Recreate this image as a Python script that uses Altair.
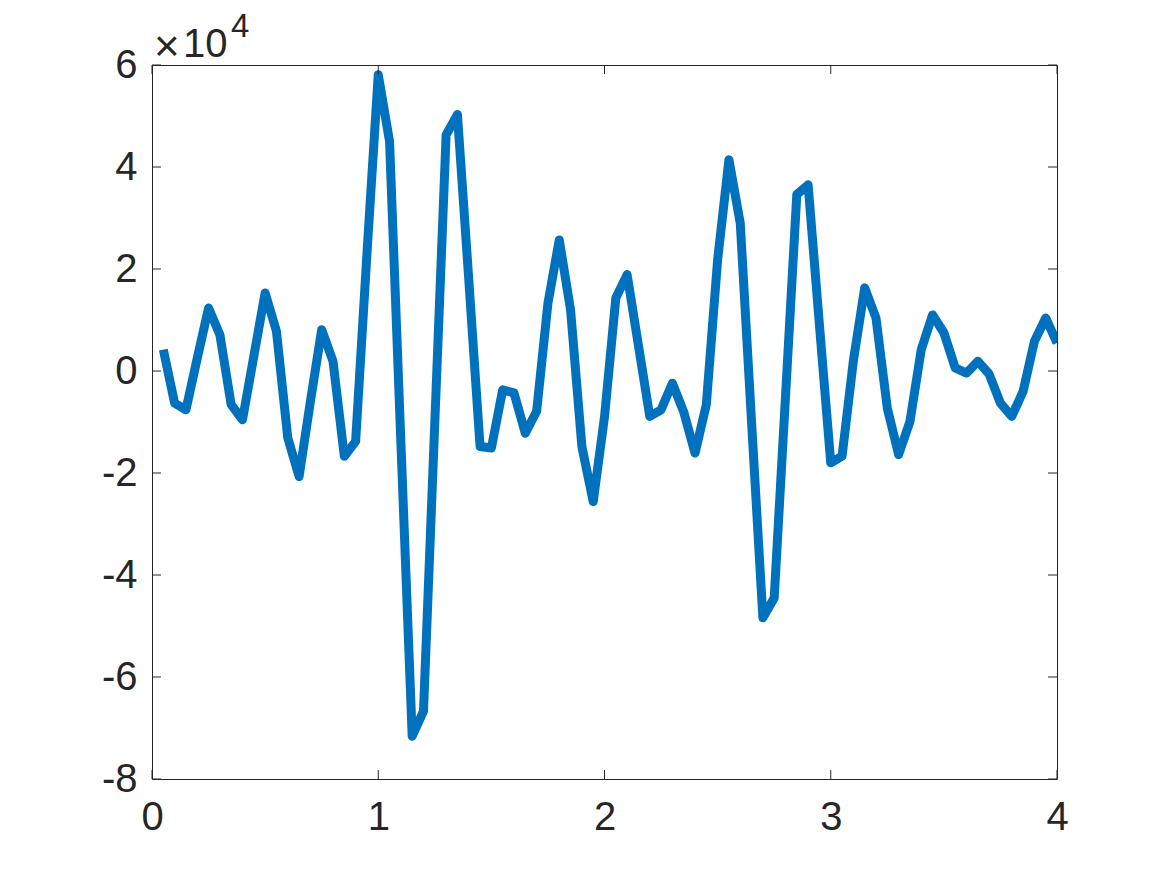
import altair as alt
import pandas as pd

# time axis (s) and signal values
t_vals = [0.05, 0.10, 0.15, 0.20, 0.25, 0.30, 0.35, 0.40, 0.45, 0.50,
          0.55, 0.60, 0.65, 0.70, 0.75, 0.80, 0.85, 0.90, 0.95, 1.00,
          1.05, 1.10, 1.15, 1.20, 1.25, 1.30, 1.35, 1.40, 1.45, 1.50,
          1.55, 1.60, 1.65, 1.70, 1.75, 1.80, 1.85, 1.90, 1.95, 2.00,
          2.05, 2.10, 2.15, 2.20, 2.25, 2.30, 2.35, 2.40, 2.45, 2.50,
          2.55, 2.60, 2.65, 2.70, 2.75, 2.80, 2.85, 2.90, 2.95, 3.00,
          3.05, 3.10, 3.15, 3.20, 3.25, 3.30, 3.35, 3.40, 3.45, 3.50,
          3.55, 3.60, 3.65, 3.70, 3.75, 3.80, 3.85, 3.90, 3.95, 4.00]
y_vals = [4200, -6300, -7600, 2500, 12350, 7100, -6600, -9550, 2900, 15300,
          7800, -13100, -20700, -6000, 8100, 1900, -16700, -13800, 23000, 58100,
          45000, -14000, -71600, -66700, -10000, 46300, 50300, 18000, -14800, -15100,
          -3700, -4300, -12200, -7900, 13300, 25700, 12000, -14800, -25600, -9000,
          14300, 18900, 5000, -8900, -7600, -2400, -8000, -16100, -6600, 21800,
          41400, 29000, -10000, -48400, -44500, -5000, 34600, 36500, 9000, -18000,
          -16700, 2000, 16300, 10400, -7300, -16400, -9900, 4200, 11000, 7500,
          600, -400, 1900, -600, -6300, -8900, -4000, 5800, 10400, 5500]

x_ticks = [0, 1, 2, 3, 4]
y_ticks = [-80000, -60000, -40000, -20000, 0, 20000, 40000, 60000]

W, H = 905, 714
FONT = "Liberation Sans"
INK = "#262626"
FS = 40

df = pd.DataFrame({"t": t_vals, "y": y_vals})
xdf = pd.DataFrame({"t": x_ticks})
ydf = pd.DataFrame({"y": y_ticks})

xscale = alt.Scale(domain=[0, 4], nice=False, zero=False)
yscale = alt.Scale(domain=[-80000, 60000], nice=False, zero=False)

xaxis = alt.Axis(values=x_ticks, ticks=False, domain=False, grid=False, format="d",
                 labelFont=FONT, labelFontSize=FS, labelColor=INK,
                 labelPadding=18, title=None, labelFlush=False, labelOverlap=False)
yaxis = alt.Axis(values=y_ticks, ticks=False, domain=False, grid=False,
                 labelFont=FONT, labelFontSize=FS, labelColor=INK,
                 labelPadding=15, title=None, labelExpr="datum.value / 10000",
                 labelFlush=False, labelOverlap=False)

line = alt.Chart(df).mark_line(
    color="#0072BD", strokeWidth=9, strokeJoin="round", strokeCap="butt", clip=True
).encode(
    x=alt.X("t:Q", scale=xscale, axis=xaxis),
    y=alt.Y("y:Q", scale=yscale, axis=yaxis),
)

tick_style = dict(color=INK, strokeWidth=1)
xt_bottom = alt.Chart(xdf).mark_rule(**tick_style).encode(
    x=alt.X("t:Q", scale=xscale), y=alt.value(H), y2=alt.value(H - 9))
xt_top = alt.Chart(xdf).mark_rule(**tick_style).encode(
    x=alt.X("t:Q", scale=xscale), y=alt.value(0), y2=alt.value(9))
yt_left = alt.Chart(ydf).mark_rule(**tick_style).encode(
    y=alt.Y("y:Q", scale=yscale), x=alt.value(0), x2=alt.value(9))
yt_right = alt.Chart(ydf).mark_rule(**tick_style).encode(
    y=alt.Y("y:Q", scale=yscale), x=alt.value(W), x2=alt.value(W - 9))

exp_times = alt.Chart(pd.DataFrame({"s": ["\u00d7"]})).mark_text(
    font=FONT, fontSize=44, color=INK, align="left", baseline="alphabetic"
).encode(text="s:N", x=alt.value(2), y=alt.value(-4))
exp_base = alt.Chart(pd.DataFrame({"s": ["10"]})).mark_text(
    font=FONT, fontSize=FS, color=INK, align="left", baseline="alphabetic"
).encode(text="s:N", x=alt.value(31), y=alt.value(-8))
exp_sup = alt.Chart(pd.DataFrame({"s": ["4"]})).mark_text(
    font=FONT, fontSize=33, color=INK, align="left", baseline="alphabetic"
).encode(text="s:N", x=alt.value(79), y=alt.value(-28))

chart = alt.layer(line, xt_bottom, xt_top, yt_left, yt_right,
                  exp_times, exp_base, exp_sup).properties(
    width=W, height=H,
    padding={"left": 144, "top": 57, "right": 102, "bottom": 80},
    autosize=alt.AutoSizeParams(type="none"),
    background="white",
).configure_view(stroke=INK, strokeWidth=1)

chart.save("out.html", embed_options={"renderer": "svg", "actions": False})
